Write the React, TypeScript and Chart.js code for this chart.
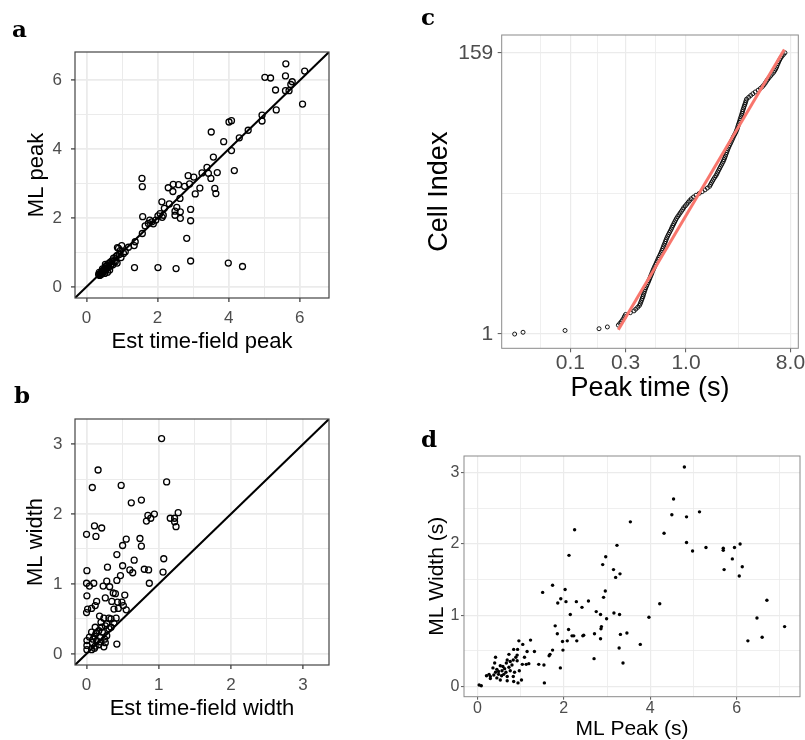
import React, { useEffect, useRef } from 'react';
import { Chart, registerables } from 'chart.js';
Chart.register(...registerables);

const SANS = '"Liberation Sans", Arial, sans-serif';

// ---------- Panel a : Est time-field peak vs ML peak ----------
const aEstPeak = [5.61,6.14,5.02,5.18,5.60,5.79,5.75,5.32,5.60,5.70,6.08,5.34,4.94,4.94,4.01,4.08,4.55,4.30,3.51,3.86,4.08,3.57,4.16,3.68,3.39,3.25,3.43,3.50,2.86,3.02,2.90,3.19,3.06,3.61,3.64,2.76,2.59,2.44,2.30,2.43,2.63,1.56,1.57,2.93,2.93,2.54,2.49,2.64,2.49,2.64,2.33,2.12,2.19,2.07,2.01,2.13,1.95,1.58,1.78,1.74,1.65,1.88,1.57,2.82,1.37,1.34,2.93,1.35,2.01,2.52,3.99,4.39,1.18,0.99,0.87,0.95,1.04,0.86,0.97,0.76,0.86,0.71,0.63,0.57,0.51,0.43,0.39,0.34,0.48,0.54,0.62,0.68,0.59,0.41,0.51,0.78,0.83,0.92,1.09,0.74,0.36,0.45,0.55,0.66,0.81,0.65,0.53,1.84,2.16,0.47,0.58,0.70,0.90,0.37,0.45];
const aMlPeak = [6.48,6.27,6.09,6.07,6.13,5.96,5.88,5.72,5.70,5.70,5.31,5.14,4.99,4.82,4.79,4.83,4.55,4.33,4.50,4.22,3.96,3.77,3.38,3.32,3.47,3.31,3.30,3.15,3.23,3.19,2.99,2.87,2.70,2.86,2.71,2.92,2.97,2.98,2.88,2.77,2.57,3.15,2.91,2.25,1.92,2.31,2.20,2.18,2.08,1.99,2.41,2.47,2.28,2.13,2.06,2.02,1.94,2.04,1.94,1.84,1.77,1.83,1.55,1.41,1.31,1.20,0.75,0.56,0.56,0.53,0.69,0.59,1.15,1.20,1.14,1.05,0.97,0.91,0.85,0.83,0.69,0.75,0.68,0.62,0.54,0.46,0.39,0.36,0.44,0.49,0.56,0.61,0.42,0.36,0.39,0.75,0.88,0.94,1.02,0.64,0.42,0.52,0.59,0.71,0.73,0.49,0.65,1.89,2.08,0.47,0.55,0.66,1.12,0.33,0.40];
const aMajor = [0, 2, 4, 6];
const aMinor = [1, 3, 5];
const aLabels = ['0', '2', '4', '6'];
const aLimits = [-0.325, 6.825];

// ---------- Panel b : Est time-field width vs ML width ----------
const bEstWidth = [1.04,0.16,1.11,0.08,0.48,0.76,0.62,0.94,0.85,0.89,0.83,1.27,1.16,1.22,1.22,1.24,0.11,0.21,0.00,0.13,0.55,0.74,0.50,0.76,0.42,1.07,0.66,0.29,0.50,0.005,0.60,0.64,0.80,0.86,1.06,0.47,0.42,0.28,0.00,0.04,0.10,0.87,0.23,0.32,0.005,0.26,0.37,0.40,0.53,0.14,0.12,0.35,0.43,0.49,0.51,0.015,0.00,0.07,0.44,0.55,0.38,0.18,0.24,0.31,0.34,0.41,0.20,0.28,0.34,0.12,0.17,0.07,0.22,0.28,0.11,0.19,0.25,0.14,0.005,0.08,0.005,0.12,0.24,0.07,0.005,0.42,0.17,0.20,0.04,0.26,0.31,0.13,0.09,0.21,0.26,0.38,0.14,0.11];
const bMlWidth = [3.08,2.63,2.46,2.38,2.41,2.20,2.16,2.00,1.98,1.94,1.90,2.02,1.94,1.94,1.89,1.82,1.83,1.80,1.71,1.68,1.64,1.65,1.55,1.54,1.42,1.36,1.34,1.24,1.26,1.19,1.20,1.16,1.21,1.20,1.17,1.12,1.05,1.04,1.01,0.97,1.01,1.01,0.97,0.96,0.83,0.80,0.87,0.86,0.84,0.75,0.69,0.75,0.74,0.74,0.69,0.64,0.59,0.65,0.65,0.63,0.64,0.54,0.51,0.51,0.50,0.51,0.45,0.43,0.38,0.38,0.33,0.31,0.31,0.26,0.25,0.24,0.21,0.19,0.19,0.16,0.12,0.11,0.10,0.06,0.06,0.14,0.13,0.17,0.24,0.16,0.36,0.29,0.21,0.38,0.40,0.44,0.30,0.08];
const bMajor = [0, 1, 2, 3];
const bMinor = [0.5, 1.5, 2.5];
const bLabels = ['0', '1', '2', '3'];
const bLimits = [-0.16, 3.36];

// ---------- Panel c : sorted peak times vs cell index ----------
const cPeakTimes = [0.033,0.039,0.090,0.177,0.209,0.260,
  0.268,0.276,0.283,0.290,0.294,0.300,0.330,0.355,0.368,0.382,0.395,0.402,0.407,0.413,0.418,0.424,0.428,0.433,0.438,0.443,0.449,0.456,0.463,0.470,0.477,0.484,0.491,0.498,0.505,0.512,0.520,0.528,0.536,0.545,
  0.554,0.563,0.572,0.581,0.591,0.601,0.611,0.620,0.628,0.637,0.645,0.655,0.664,0.673,0.683,0.694,0.706,0.719,0.732,0.746,0.757,0.770,0.784,0.798,0.813,0.828,0.848,0.869,0.890,0.913,
  0.936,0.955,0.985,1.015,1.045,1.075,1.110,1.160,1.220,1.300,1.380,1.460,1.530,1.600,1.630,1.660,1.695,1.730,1.770,1.815,1.850,1.880,1.915,1.950,1.985,2.025,2.060,2.100,2.130,2.160,
  2.190,2.215,2.245,2.275,2.305,2.340,2.380,2.420,2.460,2.500,2.540,2.580,2.630,2.680,2.720,2.760,2.790,2.820,2.850,2.890,2.920,2.950,2.985,3.020,3.050,3.080,3.110,3.150,3.185,3.225,
  3.265,3.300,3.340,3.480,3.620,3.780,3.970,4.200,4.400,4.580,4.720,4.840,4.950,5.080,5.220,5.380,5.550,5.720,5.850,5.970,6.070,6.150,6.240,6.330,6.450,6.580,6.750,6.950,7.170];
const cFitX = [0.26, 7.08];
const cFitY = [3.4, 160.9];
const cXMajor = [0.1, 0.3, 1, 8];
const cXMinor = [0.0548, 0.1732, 0.5477, 2.828];
const cXLabels = ['0.1', '0.3', '1.0', '8.0'];
const cYMajor = [1, 159];
const cYMinor = [80];
const cYLabels = ['1', '159'];

// ---------- Panel d : ML peak vs ML width ----------
const dMlPeak = [4.79,4.54,4.50,4.84,5.14,4.32,3.54,2.25,4.84,4.98,5.29,5.69,5.69,5.95,6.08,5.90,6.13,5.71,6.06,3.23,2.12,2.97,2.90,3.15,3.30,3.20,1.51,1.74,2.03,1.93,1.86,2.05,2.29,2.42,2.57,2.96,2.92,2.15,2.75,2.85,2.99,3.16,3.29,4.22,3.97,6.70,6.47,7.11,6.59,6.26,1.80,1.85,2.11,2.19,2.23,2.44,2.46,2.30,2.08,1.97,1.98,1.74,1.68,1.66,1.92,1.55,2.71,2.87,2.86,2.85,2.70,3.31,3.46,3.28,3.37,3.77,0.04,0.09,0.42,0.96,1.23,1.05,0.84,0.93,0.73,1.15,1.32,1.09,0.89,1.04,1.13,1.19,1.42,1.54,0.83,0.92,0.76,0.67,0.80,0.73,0.63,0.53,0.40,0.36,0.45,0.57,0.66,0.76,0.86,0.97,0.27,0.21,0.30,0.38,0.49,0.56,0.69,0.53,0.45,0.30,0.83,0.84,0.94,1.02,0.69,0.61,0.49,0.42,0.59,0.69,0.92];
const dMlWidth = [3.08,2.63,2.41,2.38,2.45,2.15,2.31,2.20,2.02,1.90,1.95,1.94,1.91,1.95,2.00,1.79,1.68,1.64,1.55,1.98,1.84,1.82,1.71,1.64,1.58,1.53,1.32,1.42,1.36,1.23,1.17,1.19,1.19,1.11,1.20,1.34,1.25,1.01,1.05,1.01,0.95,1.03,1.01,1.16,0.97,1.21,0.96,0.84,0.69,0.64,0.85,0.74,0.80,0.71,0.71,0.71,0.72,0.64,0.64,0.63,0.51,0.51,0.45,0.43,0.26,0.05,0.74,0.84,0.81,0.67,0.39,0.73,0.75,0.54,0.33,0.59,0.02,0.01,0.41,0.64,0.65,0.59,0.52,0.52,0.45,0.49,0.49,0.41,0.41,0.31,0.31,0.32,0.31,0.30,0.37,0.36,0.35,0.33,0.30,0.27,0.25,0.29,0.33,0.26,0.24,0.22,0.20,0.22,0.20,0.22,0.17,0.15,0.14,0.16,0.17,0.15,0.14,0.09,0.12,0.11,0.14,0.07,0.05,0.09,0.08,0.17,0.21,0.20,0.28,0.37,0.44];
const dXMajor = [0, 2, 4, 6];
const dXMinor = [1, 3, 5, 7];
const dXLabels = ['0', '2', '4', '6'];
const dYMajor = [0, 1, 2, 3];
const dYMinor = [0.5, 1.5, 2.5];
const dYLabels = ['0', '1', '2', '3'];

// ---------- helpers ----------
const zip = (xs: number[], ys: number[]) => xs.map((x, i) => ({ x, y: ys[i] }));

interface AxisOpts {
  type: 'linear' | 'logarithmic';
  position: 'left' | 'bottom';
  min: number; max: number;
  major: number[]; minor: number[]; labels: string[];
  size: number;
  tickSize: number; tickPad: number; tickLength: number;
  title: string; titleSize: number; titlePad: number;
  majorW: number; minorW: number; tickColor: string; tickW: number;
}

function axis(o: AxisOpts) {
  const all = [...o.major, ...o.minor].sort((a, b) => a - b);
  const majorIdx = (v: number) => o.major.findIndex(m => Math.abs(m - v) < 1e-6);
  return {
    type: o.type,
    position: o.position,
    min: o.min,
    max: o.max,
    afterBuildTicks: (scale: any) => { scale.ticks = all.map(v => ({ value: v })); },
    afterFit: (scale: any) => {
      if (o.position === 'left') scale.width = o.size; else scale.height = o.size;
      scale.paddingLeft = 0; scale.paddingRight = 0; scale.paddingTop = 0; scale.paddingBottom = 0;
    },
    ticks: {
      autoSkip: false, maxRotation: 0, minRotation: 0,
      padding: o.tickPad,
      color: '#4D4D4D',
      font: { family: SANS, size: o.tickSize, lineHeight: 1 },
      callback: (value: any) => { const i = majorIdx(Number(value)); return i >= 0 ? o.labels[i] : ''; },
    },
    grid: {
      color: '#EBEBEB',
      lineWidth: (ctx: any) => (ctx.tick && majorIdx(ctx.tick.value) >= 0 ? o.majorW : o.minorW),
      drawTicks: true,
      tickLength: o.tickLength,
      tickColor: (ctx: any) => (ctx.tick && majorIdx(ctx.tick.value) >= 0 ? o.tickColor : 'rgba(0,0,0,0)'),
      tickWidth: o.tickW,
    },
    border: { display: false },
    title: {
      display: true, text: o.title, color: '#000',
      font: { family: SANS, size: o.titleSize, lineHeight: 1 },
      padding: { top: o.titlePad, bottom: o.titlePad },
    },
  };
}

const borderPlugin = {
  id: 'panelBorder',
  afterDatasetsDraw(chart: any, _args: any, opts: any) {
    const { ctx, chartArea } = chart;
    const { left, top, right, bottom } = chartArea;
    ctx.save();
    ctx.strokeStyle = opts.color;
    ctx.lineWidth = opts.width;
    ctx.strokeRect(left, top, right - left, bottom - top);
    ctx.restore();
  },
};

function baseOptions(padding: any, borderColor: string, borderWidth: number, x: any, y: any) {
  return {
    animation: false,
    responsive: false,
    devicePixelRatio: 1,
    events: [],
    layout: { padding },
    plugins: {
      legend: { display: false },
      tooltip: { enabled: false },
      panelBorder: { color: borderColor, width: borderWidth },
    },
    scales: { x, y },
  };
}

function configA() {
  return {
    type: 'scatter',
    data: {
      datasets: [
        { data: zip(aLimits, aLimits), showLine: true, borderColor: '#000', borderWidth: 2, pointRadius: 0, fill: false },
        { data: zip(aEstPeak, aMlPeak), pointRadius: 3, pointBorderWidth: 1.3, pointBorderColor: '#000', pointBackgroundColor: 'rgba(0,0,0,0)' },
      ],
    },
    options: baseOptions({ left: 0, top: 52, right: 71, bottom: 0 }, '#444', 1.2,
      axis({ type: 'linear', position: 'bottom', min: aLimits[0], max: aLimits[1], major: aMajor, minor: aMinor, labels: aLabels, size: 72, tickSize: 17, tickPad: 7.5, tickLength: 4, title: 'Est time-field peak', titleSize: 22, titlePad: 17, majorW: 1.8, minorW: 1.0, tickColor: '#333', tickW: 1.2 }),
      axis({ type: 'linear', position: 'left', min: aLimits[0], max: aLimits[1], major: aMajor, minor: aMinor, labels: aLabels, size: 75, tickSize: 17, tickPad: 9, tickLength: 4, title: 'ML peak', titleSize: 22, titlePad: 25.5, majorW: 1.8, minorW: 1.0, tickColor: '#333', tickW: 1.2 })),
    plugins: [borderPlugin],
  };
}

function configB() {
  return {
    type: 'scatter',
    data: {
      datasets: [
        { data: zip(bLimits, bLimits), showLine: true, borderColor: '#000', borderWidth: 2, pointRadius: 0, fill: false },
        { data: zip(bEstWidth, bMlWidth), pointRadius: 3, pointBorderWidth: 1.3, pointBorderColor: '#000', pointBackgroundColor: 'rgba(0,0,0,0)' },
      ],
    },
    options: baseOptions({ left: 0, top: 49, right: 71, bottom: 0 }, '#444', 1.2,
      axis({ type: 'linear', position: 'bottom', min: bLimits[0], max: bLimits[1], major: bMajor, minor: bMinor, labels: bLabels, size: 75, tickSize: 17, tickPad: 8, tickLength: 4, title: 'Est time-field width', titleSize: 22, titlePad: 20, majorW: 1.8, minorW: 1.0, tickColor: '#333', tickW: 1.2 }),
      axis({ type: 'linear', position: 'left', min: bLimits[0], max: bLimits[1], major: bMajor, minor: bMinor, labels: bLabels, size: 75, tickSize: 17, tickPad: 8.5, tickLength: 4, title: 'ML width', titleSize: 22, titlePad: 25, majorW: 1.8, minorW: 1.0, tickColor: '#333', tickW: 1.2 })),
    plugins: [borderPlugin],
  };
}

function configC() {
  return {
    type: 'scatter',
    data: {
      datasets: [
        { data: zip(cFitX, cFitY), showLine: true, borderColor: '#F8766D', borderWidth: 3, pointRadius: 0, fill: false },
        { data: cPeakTimes.map((x, i) => ({ x, y: i + 1 })), pointRadius: 2, pointBorderWidth: 0.9, pointBorderColor: '#000', pointBackgroundColor: 'rgba(0,0,0,0)' },
      ],
    },
    options: baseOptions({ left: 0, top: 35, right: 6.7, bottom: 0 }, '#8A8A8A', 1,
      axis({ type: 'logarithmic', position: 'bottom', min: 0.0255, max: 9.35, major: cXMajor, minor: cXMinor, labels: cXLabels, size: 61.7, tickSize: 21, tickPad: 0, tickLength: 4, title: 'Peak time (s)', titleSize: 27, titlePad: 7.5, majorW: 1.2, minorW: 0.8, tickColor: '#555', tickW: 1 }),
      axis({ type: 'linear', position: 'left', min: -7, max: 169, major: cYMajor, minor: cYMinor, labels: cYLabels, size: 101.7, tickSize: 21, tickPad: 4.4, tickLength: 4, title: 'Cell Index', titleSize: 27, titlePad: 26.5, majorW: 1.2, minorW: 0.8, tickColor: '#555', tickW: 1 })),
    plugins: [borderPlugin],
  };
}

function configD() {
  return {
    type: 'scatter',
    data: {
      datasets: [
        { data: zip(dMlPeak, dMlWidth), pointRadius: 1.7, pointBorderWidth: 0, pointBackgroundColor: '#000' },
      ],
    },
    options: baseOptions({ left: 0, top: 46, right: 5, bottom: 0 }, '#8A8A8A', 1,
      axis({ type: 'linear', position: 'bottom', min: -0.31, max: 7.466, major: dXMajor, minor: dXMinor, labels: dXLabels, size: 43.3, tickSize: 16, tickPad: 1.3, tickLength: 3, title: 'ML Peak (s)', titleSize: 21, titlePad: 0.1, majorW: 1.2, minorW: 0.8, tickColor: '#555', tickW: 1 }),
      axis({ type: 'linear', position: 'left', min: -0.144, max: 3.234, major: dYMajor, minor: dYMinor, labels: dYLabels, size: 64, tickSize: 16, tickPad: 1.5, tickLength: 3, title: 'ML Width (s)', titleSize: 21, titlePad: 27.2, majorW: 1.2, minorW: 0.8, tickColor: '#555', tickW: 1 })),
    plugins: [borderPlugin],
  };
}

function ChartCanvas(props: { left: number; top: number; width: number; height: number; make: () => any }) {
  const ref = useRef<HTMLCanvasElement>(null);
  useEffect(() => {
    const chart = new Chart(ref.current as HTMLCanvasElement, props.make());
    return () => chart.destroy();
  }, []);
  const { left, top, width, height } = props;
  return <canvas ref={ref} width={width} height={height} style={{ position: 'absolute', left, top, width, height }} />;
}

const letterStyle = (left: number, top: number): React.CSSProperties => ({
  position: 'absolute', left, top, fontFamily: '"DejaVu Serif", serif', fontWeight: 'bold',
  fontSize: 23, lineHeight: '23px', color: '#000', margin: 0,
});

export default function App() {
  return (
    <div style={{ position: 'absolute', left: 0, top: 0, width: 805, height: 740, background: '#fff', overflow: 'hidden' }}>
      <ChartCanvas left={0} top={0} width={400} height={370} make={configA} />
      <ChartCanvas left={0} top={370} width={400} height={370} make={configB} />
      <ChartCanvas left={400} top={0} width={405} height={410} make={configC} />
      <ChartCanvas left={400} top={410} width={405} height={330} make={configD} />
      <div style={letterStyle(12, 17)}>a</div>
      <div style={letterStyle(14, 383)}>b</div>
      <div style={letterStyle(421, 5)}>c</div>
      <div style={letterStyle(421, 427)}>d</div>
    </div>
  );
}
